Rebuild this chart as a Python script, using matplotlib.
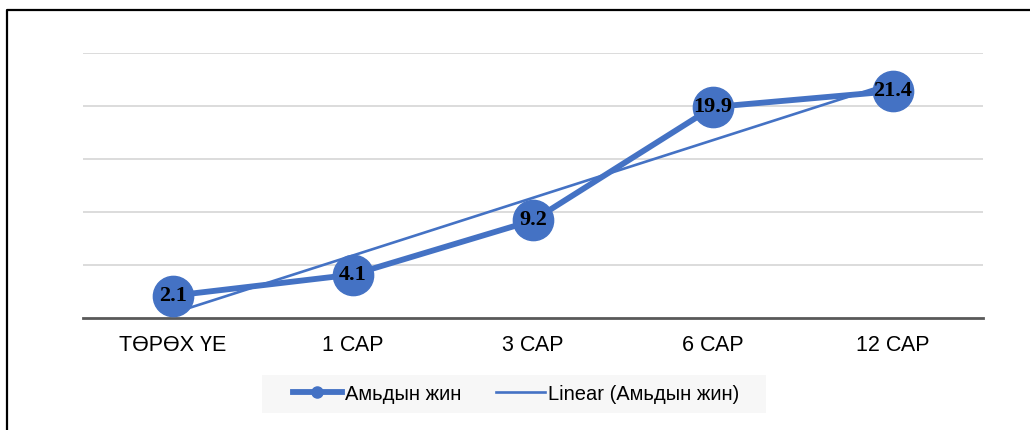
import numpy as np
from matplotlib import pyplot as plt
from matplotlib.lines import Line2D
from matplotlib.patches import Rectangle

categories = ['ТӨРӨХ ҮЕ', '1 САР', '3 САР', '6 САР', '12 САР']
values = [2.1, 4.1, 9.2, 19.9, 21.4]
series_name = 'Амьдын жин'
trend_name = 'Linear (Амьдын жин)'

blue = '#4472C4'
W, H = 1030, 430

plt.rcParams['font.family'] = ['Liberation Sans', 'DejaVu Sans']

fig = plt.figure(figsize=(W / 100, H / 100), dpi=100)
ax = fig.add_axes([83 / W, 1 - 318 / H, 900 / W, 265 / H])

xs = np.arange(len(categories))
# linear trendline, fitted the way excel does it (x = 1..n)
k, b = np.polyfit(xs + 1, values, 1)
trend = k * (xs + 1) + b

ax.plot(xs, values, color=blue, lw=4.2, marker='o', ms=29, mfc=blue, mec=blue,
        solid_capstyle='round', zorder=3)
ax.plot(xs, trend, color=blue, lw=1.9, zorder=4)

for x, v in zip(xs, values):
    ax.text(x, v, f'{v:.1f}', ha='center', va='center', fontsize=16,
            fontweight='bold', family=['Liberation Serif', 'DejaVu Serif'],
            color='black', zorder=5)

ax.set_xlim(-0.5, len(categories) - 0.5)
ax.set_ylim(0, 25)
ax.set_yticks([5, 10, 15, 20, 25])
ax.yaxis.grid(True, color='#d9d9d9', lw=1.3)
ax.set_axisbelow(True)
ax.tick_params(axis='y', left=False, labelleft=False)
ax.set_xticks(xs)
ax.set_xticklabels(categories, fontsize=15.5)
ax.tick_params(axis='x', length=0, pad=12, colors='black')
for side in ['top', 'right', 'left']:
    ax.spines[side].set_visible(False)
ax.spines['bottom'].set_color('#595959')
ax.spines['bottom'].set_linewidth(2)
ax.patch.set_visible(False)

# legend background box
fig.add_artist(Rectangle((262 / W, 1 - 413 / H), 504 / W, 38 / H,
                         transform=fig.transFigure, facecolor='#f7f7f7',
                         edgecolor='none', zorder=0))
handles = [
    Line2D([], [], color=blue, lw=4.2, marker='o', ms=8, mfc=blue, mec=blue),
    Line2D([], [], color=blue, lw=1.9),
]
leg = fig.legend(handles, [series_name, trend_name], loc='center',
                 bbox_to_anchor=(516 / W, 1 - 394 / H), ncol=2,
                 fontsize=14.5, frameon=False, handlelength=2.4,
                 handletextpad=0.15, columnspacing=1.75)

# outer frame (only top and left edges visible in the crop)
fig.add_artist(Line2D([7 / W, 7 / W, 1], [0, 1 - 10 / H, 1 - 10 / H],
                      color='black', lw=1.6, transform=fig.transFigure))

fig.savefig('out.png', dpi=100)
